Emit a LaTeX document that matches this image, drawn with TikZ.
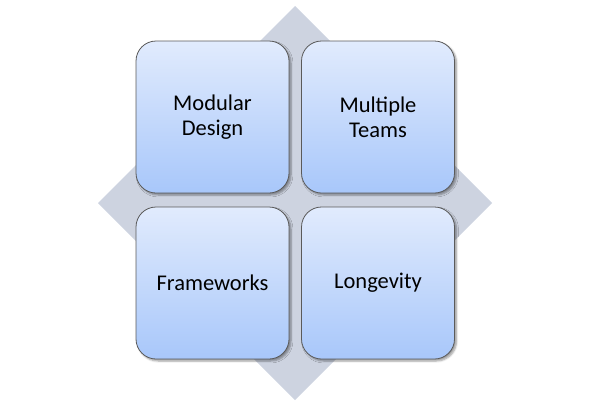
\documentclass[tikz,border=0pt]{standalone}
\usepackage{fontspec}
\setmainfont{Carlito}
\usetikzlibrary{shadows.blur}
\definecolor{diam}{HTML}{CDD3E0}
\definecolor{btop}{HTML}{E1EBFD}
\definecolor{bbot}{HTML}{A8C7FA}
\definecolor{bord}{HTML}{5A5A5A}
\tikzset{
  tile/.style={draw=bord, line width=0.8bp, rounded corners=20bp,
    top color=btop, bottom color=bbot, minimum width=153bp, minimum height=152bp,
    align=center, font=\fontsize{22.5bp}{25bp}\selectfont, text=black,
    blur shadow={shadow xshift=2bp, shadow yshift=-2bp, shadow blur steps=5, shadow opacity=40}},
}
\begin{document}
\begin{tikzpicture}[x=1bp,y=-1bp]
\useasboundingbox (0,0) rectangle (590,408);
\fill[diam] (295,6) -- (492,203) -- (295,400) -- (98,203) -- cycle;
\node[tile] (md) at (212.5,117) {Modular\\Design};
\node[tile] (mt) at (378,117) {Multiple\\Teams};
\node[tile] (fw) at (212.5,283) {Frameworks};
\node[tile] (lg) at (378,283) {Longevity};
\end{tikzpicture}
\end{document}
